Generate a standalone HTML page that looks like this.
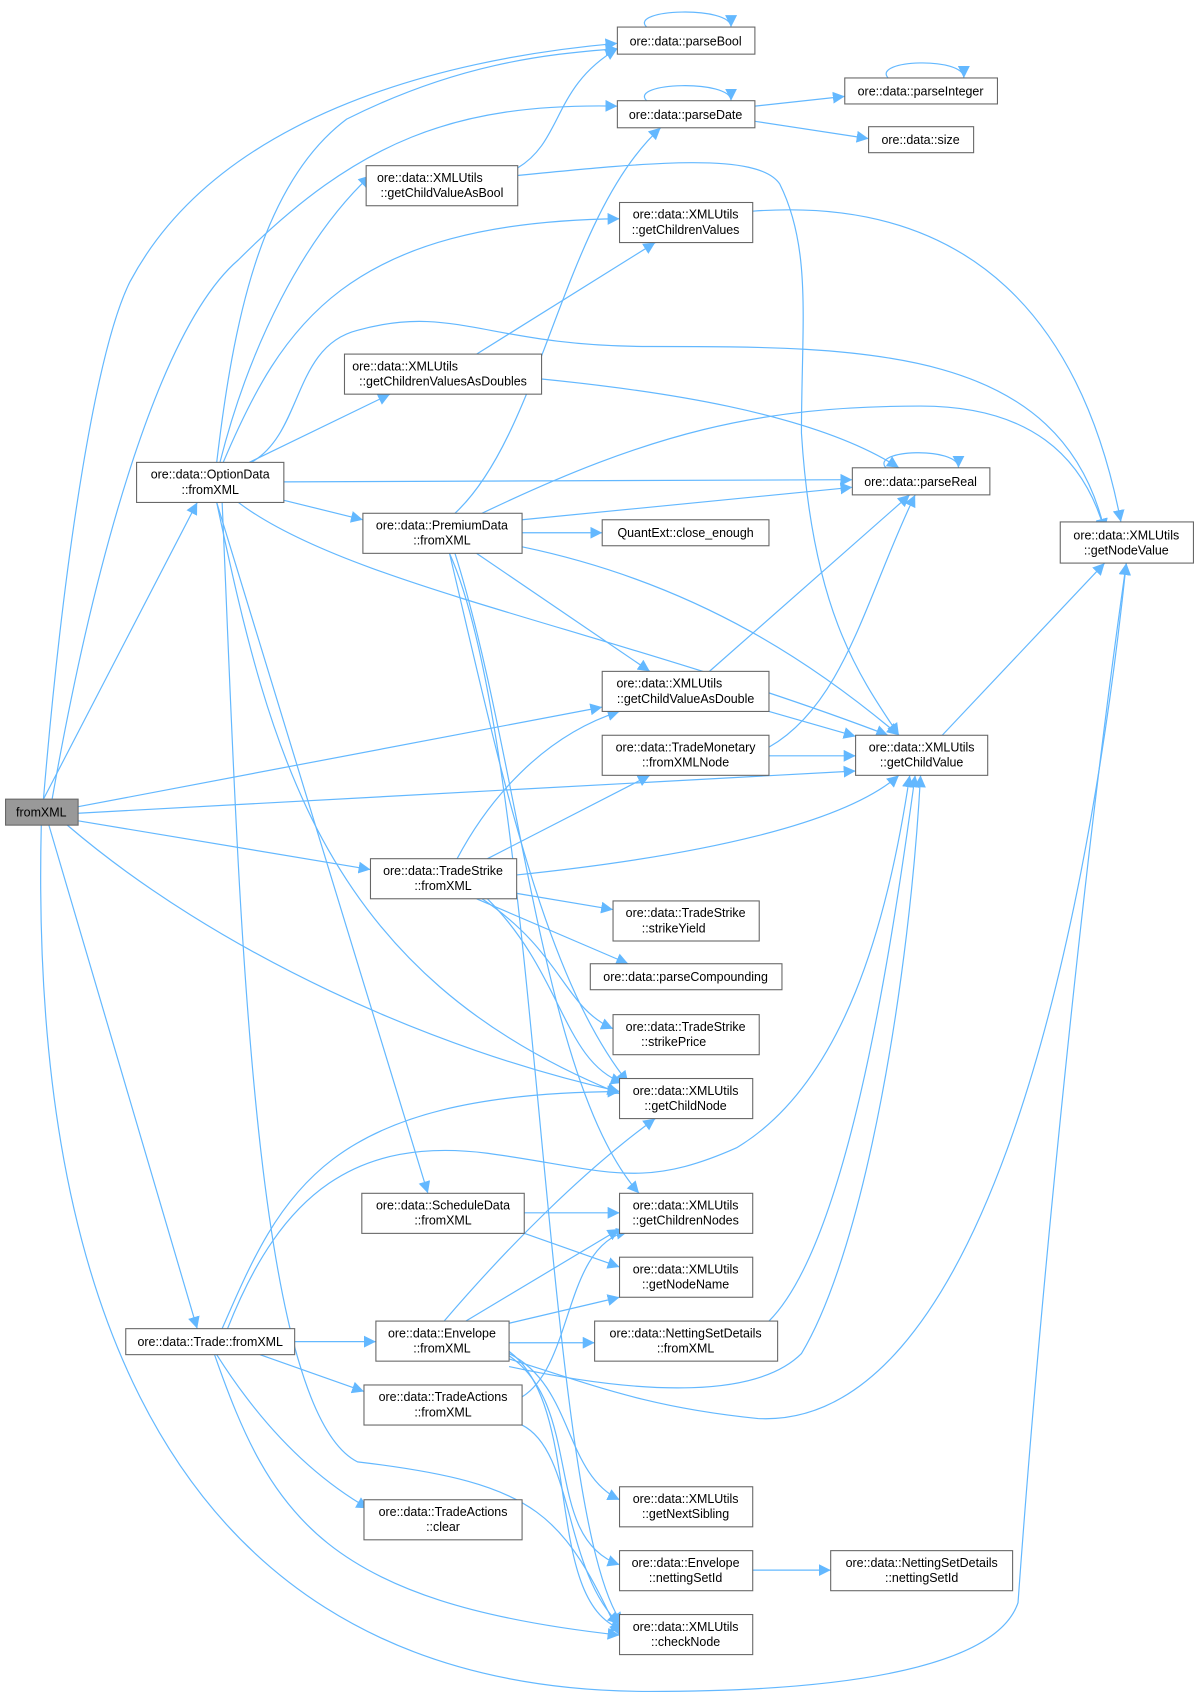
<!DOCTYPE html>
<html><head><meta charset="utf-8"><style>
html,body{margin:0;padding:0;background:#fff;}
svg{display:block}
text{font-family:"Liberation Sans",sans-serif;font-size:11.5px;fill:#000;text-anchor:middle}
.n{fill:#fff;stroke:#666;stroke-width:1}
.e{fill:none;stroke:#63b8ff;stroke-width:1.1}
</style></head><body>
<svg width="1199" height="1699" viewBox="0 0 1107 1569" xmlns="http://www.w3.org/2000/svg">
<defs><marker id="a" viewBox="0 0 10 10" refX="10" refY="5" markerWidth="11" markerHeight="11" markerUnits="userSpaceOnUse" orient="auto"><path d="M0,0L10,5L0,10z" fill="#63b8ff"/></marker></defs>
<g class="e" marker-end="url(#a)">
<path d="M40,738 C60,500 90,320 120,260 C200,110 400,55 570,40"/>
<path d="M48,738 C90,500 150,300 220,240 C330,130 420,95 570,98"/>
<path d="M40,738 L182,464"/>
<path d="M72,745 L556,653"/>
<path d="M72,751 L790,712"/>
<path d="M72,758 L342,803"/>
<path d="M62,762 C200,880 400,970 572,1008"/>
<path d="M45,762 L182,1227"/>
<path d="M38,762 C30,1100 100,1562 600,1562 C880,1562 930,1510 940,1480 C960,1200 1000,800 1040,520"/>
<path d="M200,427 C215,300 240,170 320,110 C420,60 500,50 570,45"/>
<path d="M203,427 C230,320 280,220 342,162"/>
<path d="M206,427 C260,300 320,205 572,202"/>
<path d="M232,427 C280,400 270,320 330,305 C420,280 450,320 600,320 C800,320 980,320 1020,490"/>
<path d="M230,427 L360,364"/>
<path d="M262,445 L787,443"/>
<path d="M262,462 L335,480"/>
<path d="M220,464 C320,540 560,580 820,679"/>
<path d="M200,464 C250,700 300,900 572,1010"/>
<path d="M200,464 L395,1102"/>
<path d="M205,464 C220,800 230,1300 330,1350 C500,1370 520,1400 572,1510"/>
<path d="M420,474 C500,400 520,200 610,118"/>
<path d="M482,480 L787,450"/>
<path d="M482,492 L556,492"/>
<path d="M445,474 C600,400 700,375 850,375 C950,375 1000,420 1020,490"/>
<path d="M440,511 L600,620"/>
<path d="M482,505 C650,540 760,620 830,679"/>
<path d="M415,511 C460,700 500,900 580,1000"/>
<path d="M420,511 C480,700 500,1000 590,1102"/>
<path d="M415,511 C500,700 500,1400 575,1500"/>
<path d="M478,155 C520,130 510,80 570,45"/>
<path d="M478,162 C600,150 700,140 720,170 C750,230 740,300 740,400 C750,560 790,620 830,679"/>
<path d="M440,327 L605,224"/>
<path d="M500,350 C600,360 750,380 830,432"/>
<path d="M695,195 C900,180 1000,300 1035,482"/>
<path d="M697,98 L780,89"/>
<path d="M697,112 L802,128"/>
<path d="M655,620 L840,457"/>
<path d="M710,657 L790,680"/>
<path d="M710,690 C780,650 800,550 845,457"/>
<path d="M710,698 L790,698"/>
<path d="M870,679 L1020,520"/>
<path d="M422,793 C450,740 500,680 572,657"/>
<path d="M450,793 L600,716"/>
<path d="M477,808 C650,790 780,760 830,716"/>
<path d="M477,825 L566,840"/>
<path d="M440,830 L580,890"/>
<path d="M445,830 C520,880 520,930 566,950"/>
<path d="M450,830 C520,900 520,980 575,1000"/>
<path d="M484,1120 L572,1120"/>
<path d="M484,1139 L572,1170"/>
<path d="M410,1220 C470,1150 540,1080 605,1033"/>
<path d="M430,1220 L572,1135"/>
<path d="M470,1222 L572,1198"/>
<path d="M470,1240 L549,1240"/>
<path d="M470,1262 C600,1290 700,1290 740,1250 C800,1150 840,900 850,716"/>
<path d="M470,1255 C550,1280 600,1300 700,1310 C900,1320 1000,900 1040,520"/>
<path d="M470,1250 C530,1280 520,1360 572,1385"/>
<path d="M470,1252 C540,1300 500,1420 572,1445"/>
<path d="M470,1248 C540,1300 500,1480 575,1505"/>
<path d="M710,1220 C780,1150 820,900 845,716"/>
<path d="M695,1450 L767,1450"/>
<path d="M205,1227 C260,1100 300,1010 572,1008"/>
<path d="M210,1227 C260,1100 330,1050 450,1065 C560,1080 590,1100 680,1060 C780,1000 820,850 840,716"/>
<path d="M272,1239 L347,1239"/>
<path d="M240,1251 L336,1285"/>
<path d="M200,1251 C250,1330 300,1370 340,1393"/>
<path d="M198,1251 C250,1400 300,1480 572,1510"/>
<path d="M482,1290 C530,1260 520,1150 580,1137"/>
<path d="M482,1316 C530,1340 520,1450 572,1500"/>
<path d="M597,25 C580,8 675,5 675,25"/>
<path d="M597,93 C580,76 675,73 675,93"/>
<path d="M820,72 C805,55 890,52 890,72"/>
<path d="M818,432 C803,415 885,412 885,432"/>
</g>
<rect x="5" y="738" width="67" height="24" fill="#999" stroke="#666"/><text x="38" y="754">fromXML</text>
<rect class="n" x="570" y="25" width="127" height="25"/><text x="633" y="42">ore::data::parseBool</text>
<rect class="n" x="570" y="93" width="127" height="25"/><text x="633" y="110">ore::data::parseDate</text>
<rect class="n" x="780" y="72" width="141" height="24"/><text x="850" y="88">ore::data::parseInteger</text>
<rect class="n" x="802" y="117" width="97" height="24"/><text x="850" y="133">ore::data::size</text>
<rect class="n" x="338" y="153" width="140" height="37"/><text x="396" y="168" style="text-anchor:start" transform="translate(-48,0)">ore::data::XMLUtils</text><text x="408" y="182">::getChildValueAsBool</text>
<rect class="n" x="572" y="187" width="123" height="37"/><text x="633" y="202">ore::data::XMLUtils</text><text x="633" y="216">::getChildrenValues</text>
<rect class="n" x="318" y="327" width="182" height="37"/><text x="374" y="342">ore::data::XMLUtils</text><text x="409" y="356">::getChildrenValuesAsDoubles</text>
<rect class="n" x="126" y="427" width="136" height="37"/><text x="194" y="442">ore::data::OptionData</text><text x="194" y="456">::fromXML</text>
<rect class="n" x="787" y="432" width="127" height="25"/><text x="850" y="449">ore::data::parseReal</text>
<rect class="n" x="979" y="482" width="123" height="38"/><text x="1040" y="498">ore::data::XMLUtils</text><text x="1040" y="512">::getNodeValue</text>
<rect class="n" x="335" y="474" width="147" height="37"/><text x="408" y="489">ore::data::PremiumData</text><text x="408" y="503">::fromXML</text>
<rect class="n" x="556" y="480" width="154" height="24"/><text x="633" y="496">QuantExt::close_enough</text>
<rect class="n" x="556" y="620" width="154" height="37"/><text x="618" y="635">ore::data::XMLUtils</text><text x="633" y="649">::getChildValueAsDouble</text>
<rect class="n" x="556" y="679" width="154" height="37"/><text x="633" y="694">ore::data::TradeMonetary</text><text x="633" y="708">::fromXMLNode</text>
<rect class="n" x="790" y="679" width="122" height="37"/><text x="851" y="694">ore::data::XMLUtils</text><text x="851" y="708">::getChildValue</text>
<rect class="n" x="342" y="793" width="135" height="37"/><text x="409" y="808">ore::data::TradeStrike</text><text x="409" y="822">::fromXML</text>
<rect class="n" x="566" y="832" width="135" height="37"/><text x="633" y="847">ore::data::TradeStrike</text><text x="622" y="861">::strikeYield</text>
<rect class="n" x="545" y="890" width="177" height="24"/><text x="633" y="906">ore::data::parseCompounding</text>
<rect class="n" x="566" y="937" width="135" height="37"/><text x="633" y="952">ore::data::TradeStrike</text><text x="622" y="966">::strikePrice</text>
<rect class="n" x="572" y="996" width="123" height="37"/><text x="633" y="1011">ore::data::XMLUtils</text><text x="633" y="1025">::getChildNode</text>
<rect class="n" x="334" y="1102" width="150" height="37"/><text x="409" y="1117">ore::data::ScheduleData</text><text x="409" y="1131">::fromXML</text>
<rect class="n" x="572" y="1102" width="123" height="37"/><text x="633" y="1117">ore::data::XMLUtils</text><text x="633" y="1131">::getChildrenNodes</text>
<rect class="n" x="572" y="1161" width="123" height="37"/><text x="633" y="1176">ore::data::XMLUtils</text><text x="633" y="1190">::getNodeName</text>
<rect class="n" x="347" y="1220" width="123" height="37"/><text x="408" y="1235">ore::data::Envelope</text><text x="408" y="1249">::fromXML</text>
<rect class="n" x="549" y="1220" width="169" height="37"/><text x="633" y="1235">ore::data::NettingSetDetails</text><text x="633" y="1249">::fromXML</text>
<rect class="n" x="116" y="1227" width="156" height="24"/><text x="194" y="1243">ore::data::Trade::fromXML</text>
<rect class="n" x="336" y="1279" width="146" height="37"/><text x="409" y="1294">ore::data::TradeActions</text><text x="409" y="1308">::fromXML</text>
<rect class="n" x="572" y="1373" width="123" height="37"/><text x="633" y="1388">ore::data::XMLUtils</text><text x="633" y="1402">::getNextSibling</text>
<rect class="n" x="336" y="1385" width="146" height="37"/><text x="409" y="1400">ore::data::TradeActions</text><text x="409" y="1414">::clear</text>
<rect class="n" x="572" y="1432" width="123" height="37"/><text x="633" y="1447">ore::data::Envelope</text><text x="633" y="1461">::nettingSetId</text>
<rect class="n" x="767" y="1432" width="168" height="37"/><text x="851" y="1447">ore::data::NettingSetDetails</text><text x="851" y="1461">::nettingSetId</text>
<rect class="n" x="572" y="1491" width="123" height="37"/><text x="633" y="1506">ore::data::XMLUtils</text><text x="633" y="1520">::checkNode</text>
</svg>
</body></html>
